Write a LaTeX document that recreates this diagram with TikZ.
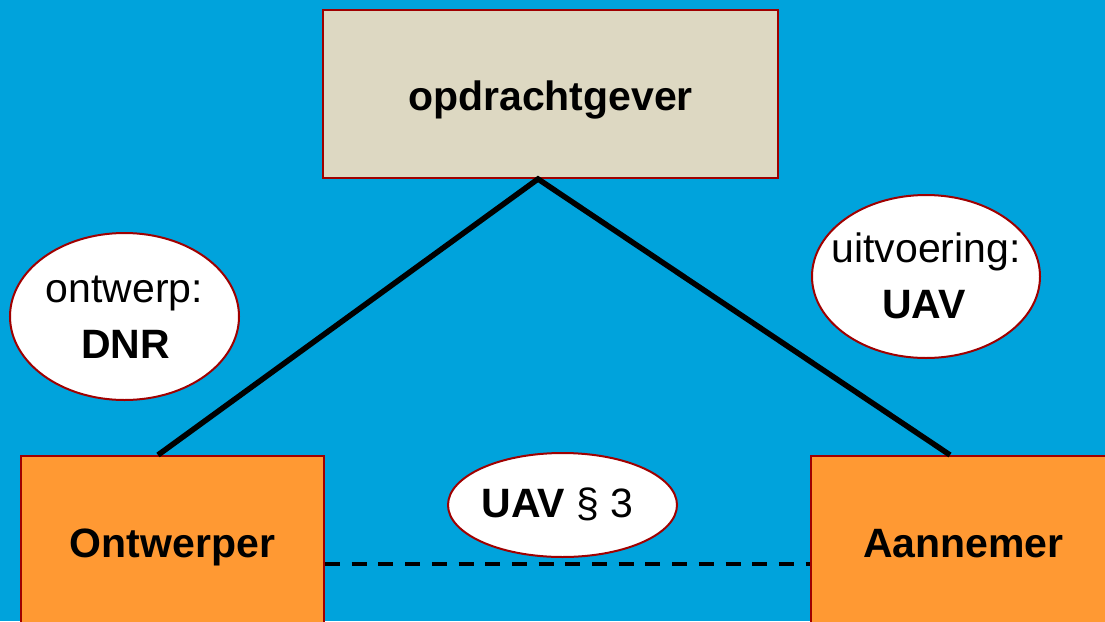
\documentclass[tikz,border=0pt]{standalone}
\usepackage{fontspec}
\setmainfont{Liberation Sans}
\usetikzlibrary{shapes.geometric,calc}
\definecolor{bgblue}{RGB}{0,163,220}
\definecolor{beige}{RGB}{221,216,194}
\definecolor{boxorange}{RGB}{255,153,51}
\definecolor{rimred}{RGB}{160,0,0}
\tikzset{
  bigfont/.style={font=\fontsize{41}{56}\selectfont},
  partybox/.style={draw=rimred, line width=2pt, rectangle, inner sep=0pt},
  rulebubble/.style={draw=rimred, line width=2pt, fill=white, ellipse, inner sep=0pt},
  label/.style={bigfont, text=black, inner sep=0pt, anchor=base},
  bond/.style={line width=5.5pt, black},
  relation/.style={line width=3.5pt, black, dash pattern=on 15pt off 11.7pt}
}
\begin{document}
\begin{tikzpicture}[x=1pt,y=-1pt]
\fill[bgblue] (0,0) rectangle (1105,621);
\useasboundingbox (0,0) rectangle (1105,621);
\clip (0,0) rectangle (1105,621);

\node[partybox, fill=beige, minimum width=455pt, minimum height=168pt] (opdr) at (550.5,94) {};
\node[partybox, fill=boxorange, minimum width=303pt, minimum height=169pt] (ontw) at (172.5,540.5) {};
\node[partybox, fill=boxorange, minimum width=305pt, minimum height=169pt] (aann) at (963.5,540.5) {};
\node[label] (opdrtxt) at ($(opdr.center)+(0,16.5)$) {\bfseries opdrachtgever};
\node[label] (ontwtxt) at ($(ontw.center)+(0,16.5)$) {\bfseries Ontwerper};
\node[label] (aanntxt) at ($(aann.center)+(0,16.5)$) {\bfseries Aannemer};

\coordinate (apex) at ($(opdr.south)+(-12.5,0)$);
\coordinate (ontwtop) at ($(ontw.north)+(-14.5,0)$);
\coordinate (aanntop) at ($(aann.north)+(-13.5,0)$);
\draw[bond] (ontwtop) -- (apex) -- (aanntop);

\draw[relation] ($(ontw.east)+(0,23.5)$) -- ($(aann.west)+(0,23.5)$);

\node[rulebubble, minimum width=229pt, minimum height=167pt] (dnr) at (124.5,316.5) {};
\node[label] (dnr1) at ($(dnr.center)+(0,-14.5)$) {ontwerp:};
\node[label] (dnr2) at ($(dnr.center)+(1,41.5)$) {\bfseries DNR};

\node[rulebubble, minimum width=228pt, minimum height=163pt] (uav) at (926,276.5) {};
\node[label] (uav1) at ($(uav.center)+(0,-14.5)$) {uitvoering:};
\node[label] (uav2) at ($(uav.center)+(-2,41.5)$) {\bfseries UAV};

\node[rulebubble, minimum width=229pt, minimum height=104pt] (uav3) at (562.5,505) {};
\node[label] (uav3txt) at ($(uav3.center)+(-5,12)$) {\textbf{UAV} § 3};
\end{tikzpicture}
\end{document}
